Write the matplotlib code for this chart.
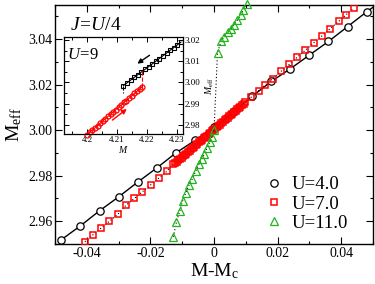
import numpy as np
import matplotlib
matplotlib.use('Agg')
import matplotlib.pyplot as plt
from matplotlib.lines import Line2D
from matplotlib.ticker import MultipleLocator, FuncFormatter

plt.rcParams['font.family'] = 'Liberation Serif'
plt.rcParams['mathtext.fontset'] = 'custom'
plt.rcParams['mathtext.rm'] = 'Liberation Serif'
plt.rcParams['mathtext.it'] = 'Liberation Serif:italic'
plt.rcParams['axes.unicode_minus'] = False

# main panel: M_eff vs M - M_c
u4_x = [-0.048, -0.042, -0.036, -0.030, -0.024, -0.018, -0.012, -0.006, 0.000,
        0.006, 0.012, 0.018, 0.024, 0.030, 0.036, 0.042, 0.048, 0.054]
u4_y = [2.9519, 2.9580, 2.9646, 2.9707, 2.9772, 2.9834, 2.9900, 2.9955, 3.0012,
        3.0080, 3.0149, 3.0214, 3.0270, 3.0330, 3.0390, 3.0455, 3.0520, 3.0580]

u7_x = [-0.0406, -0.0381, -0.0355, -0.0329, -0.0303, -0.0277, -0.0251, -0.0225,
        -0.0199, -0.0173, -0.0148, -0.0129,
        -0.0122, -0.0117, -0.0112, -0.0107, -0.0102, -0.0097, -0.0092, -0.0087,
        -0.0082, -0.0077, -0.0072, -0.0067, -0.0062, -0.0057, -0.0052, -0.0047,
        -0.0042, -0.0037, -0.0032, -0.0027, -0.0022, -0.0017, -0.0012, -0.0007,
        -0.0002, 0.0003, 0.0008, 0.0013, 0.0018, 0.0023, 0.0028, 0.0033,
        0.0038, 0.0043, 0.0048, 0.0053, 0.0058, 0.0063, 0.0068, 0.0073,
        0.0078, 0.0083, 0.0088, 0.0093, 0.0098,
        0.0116, 0.0140, 0.0161, 0.0185, 0.0210, 0.0237, 0.0262, 0.0287,
        0.0313, 0.0339, 0.0365, 0.0392, 0.0416, 0.0439]
u7_y = [2.9510, 2.9540, 2.9570, 2.9600, 2.9630, 2.9670, 2.9700, 2.9730,
        2.9760, 2.9790, 2.9820, 2.9850,
        2.9855, 2.9861, 2.9867, 2.9873, 2.9879, 2.9885, 2.9891, 2.9897,
        2.9904, 2.9910, 2.9916, 2.9922, 2.9928, 2.9934, 2.9940, 2.9946,
        2.9952, 2.9958, 2.9964, 2.9970, 2.9976, 2.9982, 2.9988, 2.9995,
        3.0001, 3.0007, 3.0013, 3.0019, 3.0025, 3.0031, 3.0037, 3.0043,
        3.0049, 3.0055, 3.0061, 3.0067, 3.0073, 3.0079, 3.0085, 3.0092,
        3.0098, 3.0104, 3.0110, 3.0116, 3.0122,
        3.0144, 3.0173, 3.0198, 3.0227, 3.0258, 3.0290, 3.0321, 3.0351,
        3.0383, 3.0414, 3.0446, 3.0478, 3.0508, 3.0535]

u11_x = [-0.0128, -0.0118, -0.0108, -0.0099, -0.0089, -0.0079, -0.0068, -0.0058,
         -0.0048, -0.0038, -0.0030, -0.0022, -0.0014, -0.0007, 0.0000,
         0.0011, 0.0022, 0.0032, 0.0043, 0.0054, 0.0063, 0.0073, 0.0084,
         0.0092, 0.0103]
u11_y = [2.9532, 2.9597, 2.9644, 2.9688, 2.9724, 2.9758, 2.9787, 2.9819,
         2.9850, 2.9875, 2.9897, 2.9921, 2.9946, 2.9972, 3.0000,
         3.0340, 3.0390, 3.0410, 3.0430, 3.0446, 3.0464, 3.0483, 3.0505,
         3.0527, 3.0556]
labels = ['U=4.0', 'U=7.0', 'U=11.0']

# inset: U=9 hysteresis, M_eff vs M
dn_x = [4.2121, 4.2133, 4.2145, 4.2157, 4.2169, 4.2181, 4.2193, 4.2205, 4.2217,
        4.2229, 4.2241, 4.2253, 4.2265, 4.2277, 4.2289, 4.2301, 4.2313]
dn_y = [2.9985, 2.9998, 3.0011, 3.0024, 3.0037, 3.0050, 3.0062, 3.0075, 3.0088,
        3.0101, 3.0114, 3.0127, 3.0140, 3.0153, 3.0166, 3.0179, 3.0192]
up_x = [4.2000, 4.2009, 4.2018, 4.2026, 4.2035, 4.2044, 4.2053, 4.2061, 4.2070,
        4.2079, 4.2088, 4.2096, 4.2105, 4.2114, 4.2123, 4.2131, 4.2140, 4.2149,
        4.2158, 4.2166, 4.2175, 4.2184]
up_y = [2.9752, 2.9763, 2.9774, 2.9784, 2.9795, 2.9807, 2.9818, 2.9828, 2.9839,
        2.9850, 2.9861, 2.9871, 2.9882, 2.9893, 2.9905, 2.9914, 2.9926, 2.9937,
        2.9948, 2.9958, 2.9969, 2.9980]
dn_jump = [2.9985, 2.9950]
up_jump = [2.9980, 3.0053]

green = '#22b41e'

fig = plt.figure(figsize=(3.75, 2.84), dpi=100)
ax = fig.add_axes([0.1467, 0.1408, 0.848, 0.8416])

ax.plot(u4_x, u4_y, color='k', lw=1.0, marker='o', ms=5.3, mfc='white',
        mec='k', mew=0.9, zorder=2)
ax.plot(u7_x, u7_y, color='k', lw=0.8, ls=(0, (1, 2)), zorder=3)
ax.plot(u7_x, u7_y, ls='none', marker='s', ms=4.8, mfc='none', mec='red',
        mew=1.1, zorder=3)
ax.plot(u11_x, u11_y, color='k', lw=0.8, ls=(0, (1, 2)), zorder=4)
ax.plot(u11_x, u11_y, ls='none', marker='^', ms=5.4, mfc='none', mec=green,
        mew=0.9, zorder=4, clip_on=False)

ax.set_xlim(-0.05, 0.05)
ax.set_ylim(2.95, 3.055)
ax.xaxis.set_major_locator(MultipleLocator(0.02))
ax.xaxis.set_minor_locator(MultipleLocator(0.01))
ax.yaxis.set_major_locator(MultipleLocator(0.02))
ax.yaxis.set_minor_locator(MultipleLocator(0.01))
ax.xaxis.set_major_formatter(FuncFormatter(lambda v, p: '%g' % round(v, 4)))
ax.yaxis.set_major_formatter(FuncFormatter(lambda v, p: '%.2f' % v))
ax.tick_params(which='both', direction='in', top=True, right=True,
               labelsize=10, width=0.8, pad=2)
ax.tick_params(which='major', length=5)
ax.tick_params(which='minor', length=2.5)
for s in ax.spines.values():
    s.set_linewidth(1.0)
ax.set_xlabel(r'M-M$_{\rm c}$', fontsize=14, labelpad=1)
ax.set_ylabel(r'M$_{\rm eff}$', fontsize=14, labelpad=3)

ax.text(0.047, 0.916, r'$J\!=\!U/4$', transform=ax.transAxes, fontsize=14,
        va='center', ha='left')

handles = [Line2D([], [], ls='none', marker='o', ms=5.3, mfc='none', mec='k', mew=0.9),
           Line2D([], [], ls='none', marker='s', ms=4.8, mfc='none', mec='red', mew=1.1),
           Line2D([], [], ls='none', marker='^', ms=5.4, mfc='none', mec=green, mew=0.9)]
leg = ax.legend(handles, labels, loc='lower right', bbox_to_anchor=(0.92, 0.05),
                frameon=False, fontsize=13.5, handlelength=0.6, handletextpad=0.6,
                labelspacing=0.12, borderpad=0, borderaxespad=0)

# inset
ins = fig.add_axes([0.1707, 0.5282, 0.3165, 0.3405])
ins.plot(dn_x, dn_y, color='k', lw=0.8, marker='s', ms=3.2, mfc='none',
         mec='k', mew=0.8, clip_on=False)
ins.plot(up_x, up_y, color='red', lw=0.8, marker='o', ms=3.6, mfc='none',
         mec='red', mew=0.9, clip_on=False)
ins.plot([dn_x[0], dn_x[0]], dn_jump, color='k', lw=0.8, ls='--')
ins.plot([up_x[-1], up_x[-1]], up_jump, color='red', lw=0.8, ls='--')
ins.annotate('', xy=(4.2160, 3.0082), xytext=(4.2216, 3.0137),
             arrowprops=dict(arrowstyle='-|>', color='k', lw=1.0,
                             mutation_scale=7))
ins.annotate('', xy=(4.2140, 2.9882), xytext=(4.2077, 2.9813),
             arrowprops=dict(arrowstyle='-|>', color='red', lw=1.0,
                             mutation_scale=7))
ins.text(0.023, 0.817, r'$U\!=\!9$', transform=ins.transAxes, fontsize=12,
         va='center', ha='left')
ins.set_xlim(4.1923, 4.2319)
ins.set_ylim(2.9755, 3.0215)
ins.set_xticks([4.2, 4.21, 4.22, 4.23])
ins.set_xticklabels(['4.2', '4.21', '4.22', '4.23'])
ins.set_yticks([2.98, 2.99, 3.00, 3.01, 3.02])
ins.set_yticklabels(['2.98', '2.99', '3.00', '3.01', '3.02'])
ins.xaxis.set_minor_locator(MultipleLocator(0.005))
ins.yaxis.set_minor_locator(MultipleLocator(0.005))
ins.tick_params(which='both', direction='in', top=True, right=True, left=True,
                labelleft=False, labelright=True, labelsize=6.5, pad=1.5,
                width=0.7)
ins.tick_params(which='major', length=3.5)
ins.tick_params(which='minor', length=2)
for s in ins.spines.values():
    s.set_linewidth(0.9)
ins.set_xlabel(r'$M$', fontsize=7, labelpad=0)
ins.yaxis.set_label_position('right')
ins.set_ylabel(r'$M_{\rm eff}$', fontsize=7, labelpad=2)

fig.savefig('out.png', dpi=100)
